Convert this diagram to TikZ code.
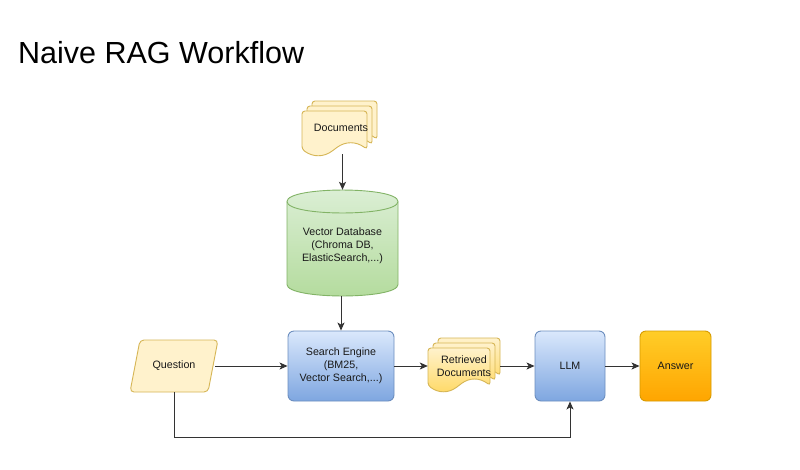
\documentclass[tikz,border=0pt]{standalone}
\usepackage{fontspec}
\setmainfont{Liberation Sans}
\usetikzlibrary{arrows.meta,calc}
\definecolor{bluetop}{HTML}{DAE8FC}
\definecolor{bluebot}{HTML}{7EA6E0}
\definecolor{blueline}{HTML}{6C8EBF}
\definecolor{greentop}{HTML}{DCEFD6}
\definecolor{greenbot}{HTML}{B3DB9C}
\definecolor{greenline}{HTML}{82B366}
\definecolor{yellowfill}{HTML}{FFF2CC}
\definecolor{yellowbot}{HTML}{FFD966}
\definecolor{yellowline}{HTML}{D6B656}
\definecolor{orangetop}{HTML}{FFCD28}
\definecolor{orangebot}{HTML}{FFA500}
\definecolor{orangeline}{HTML}{D79B00}
\definecolor{wire}{HTML}{333333}
% document sheet: #1 style, #2 x, #3 y, #4 w, #5 h
\newcommand{\docsheet}[5]{%
  \path[#1] (#2,{#3+0.85*#5}) -- (#2,#3) -- ({#2+#4},#3) -- ({#2+#4},{#3+0.85*#5})
    .. controls ({#2+0.833*#4},{#3+0.67*#5}) and ({#2+0.667*#4},{#3+0.67*#5}) .. ({#2+0.5*#4},{#3+0.85*#5})
    .. controls ({#2+0.333*#4},{#3+1.03*#5}) and ({#2+0.167*#4},{#3+1.03*#5}) .. ({#2},{#3+0.85*#5}) -- cycle;}
\begin{document}
\begin{tikzpicture}[x=1pt,y=-1pt,
  lbl/.style={font=\fontsize{10.7}{13}\selectfont, align=center, text=black!90, inner sep=0pt},
  arr/.style={draw=wire, line width=1pt, -{Stealth[length=8pt,width=7pt,inset=2pt]}},
  bluebox/.style={lbl, rounded corners=6pt, draw=blueline, line width=0.9pt, top color=bluetop, bottom color=bluebot, minimum height=70pt},
  orangebox/.style={lbl, rounded corners=6pt, draw=orangeline, line width=0.9pt, top color=orangetop, bottom color=orangebot, minimum height=70pt},
  plainsheet/.style={draw=yellowline, line width=0.9pt, fill=yellowfill, rounded corners=3pt},
  shadedsheet/.style={draw=yellowline, line width=0.9pt, top color=yellowfill, bottom color=yellowbot, rounded corners=3pt},
  cylbody/.style={draw=greenline, line width=0.9pt, top color=greentop, bottom color=greenbot},
  ghost/.style={lbl, draw=none}
]
\useasboundingbox[fill=white] (0,0) rectangle (800,469);

% title
\node[anchor=base west, font=\fontsize{30.5}{36}\selectfont, inner sep=0pt] (title) at (18,63) {Naive RAG Workflow};

% Documents (multi-document)
\docsheet{plainsheet}{312}{101}{65}{45}
\docsheet{plainsheet}{307}{106}{65}{45}
\docsheet{plainsheet}{302}{111}{65}{45}
\node[ghost, minimum width=75pt, minimum height=52pt] (docs) at (341,128) {Documents};

% Vector database (cylinder)
\path[cylbody] (287,201.5) -- (287,284.5)
  .. controls (287,299.8) and (398,299.8) .. (398,284.5) -- (398,201.5)
  .. controls (398,186.2) and (287,186.2) .. cycle;
\draw[draw=greenline, line width=0.9pt] (287,201.5) .. controls (287,216.8) and (398,216.8) .. (398,201.5);
\node[ghost, minimum width=111pt, minimum height=106pt] (db) at (342.5,243) {};
\node[lbl] (dbtext) at (342.5,246) {Vector Database\\(Chroma DB,\\ElasticSearch,...)};

% Search engine
\node[bluebox, minimum width=106pt] (search) at (341,366) {Search Engine\\(BM25,\\Vector Search,...)};

% Question (parallelogram)
\path[draw=yellowline, line width=0.9pt, fill=yellowfill, rounded corners=4pt]
  (140,340) -- (218,340) -- (208,392) -- (130,392) -- cycle;
\node[ghost, minimum width=82pt, minimum height=52pt] (question) at (174,366) {Question};

% Retrieved documents
\docsheet{shadedsheet}{438}{338}{62}{44}
\docsheet{shadedsheet}{433}{343}{62}{44}
\docsheet{shadedsheet}{428}{348}{62}{44}
\node[ghost, minimum width=72pt, minimum height=50pt] (ret) at (464,366) {Retrieved\\Documents};

% LLM and Answer
\node[bluebox, minimum width=70pt] (llm) at (570,366) {LLM};
\node[orangebox, minimum width=71pt] (answer) at (675.5,366) {Answer};

% connectors
\draw[arr] (docs.south -| db.north) -- (db.north);
\draw[arr] (db.south -| search.north) -- (search.north);
\draw[arr] (question.east) -- (search.west);
\draw[arr] (search.east) -- (ret.west);
\draw[arr] (ret.east) -- (llm.west);
\draw[arr] (llm.east) -- (answer.west);
\coordinate (corner) at (174,437);
\draw[arr] (question.south) -- (corner) -| (llm.south);
\end{tikzpicture}
\end{document}
